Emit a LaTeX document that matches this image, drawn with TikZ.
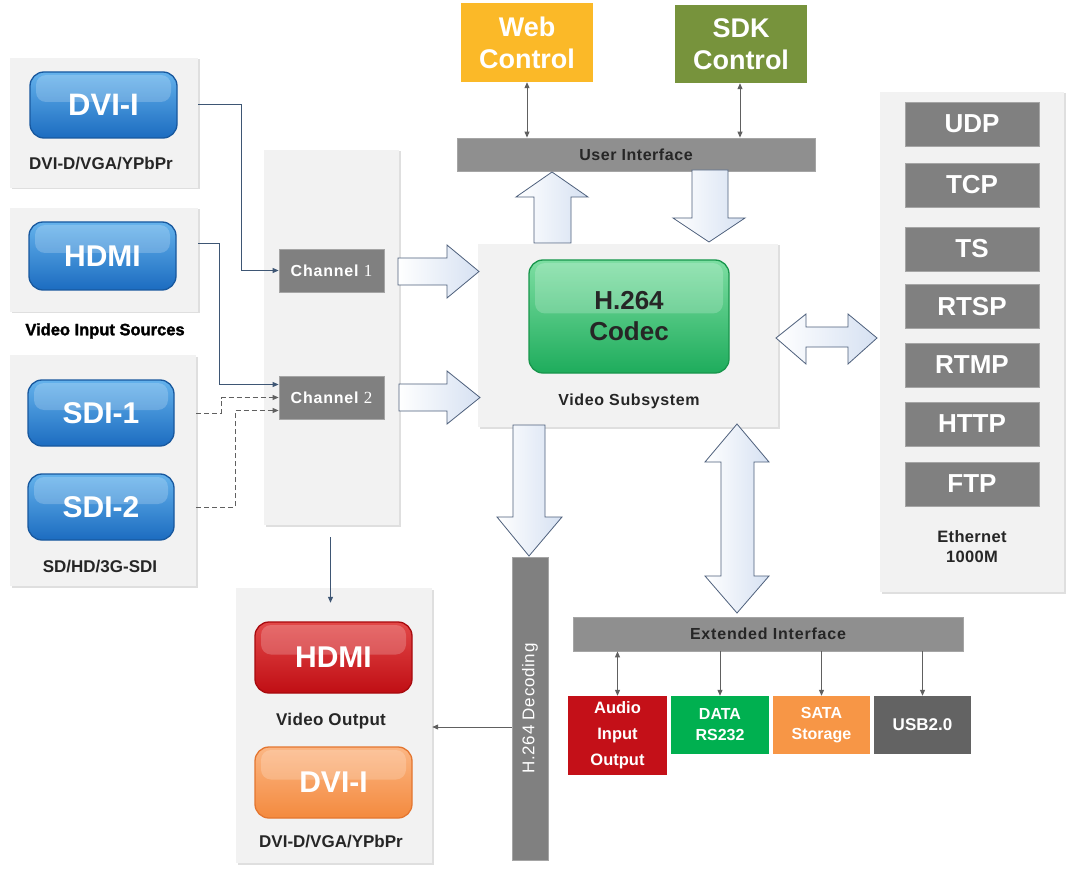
\documentclass[tikz,border=0pt]{standalone}
\usepackage{fontspec}
\setmainfont{Liberation Sans}
\newfontfamily\serifdigit{Liberation Serif}
\newfontfamily\heavyfont{Liberation Sans}[BoldFeatures={FakeBold=1.6}]
\usetikzlibrary{arrows.meta,calc,shadows}
\definecolor{panelgray}{RGB}{242,242,242}
\definecolor{boxgray}{RGB}{128,128,128}
\definecolor{barGray}{RGB}{143,143,143}
\definecolor{boxedge}{RGB}{165,165,165}
\definecolor{darktext}{RGB}{38,38,38}
\definecolor{bluetop}{RGB}{100,178,236}
\definecolor{bluemid}{RGB}{45,135,212}
\definecolor{bluebot}{RGB}{28,108,192}
\definecolor{blueedge}{RGB}{24,88,158}
\definecolor{greentop}{RGB}{125,222,162}
\definecolor{greenmid}{RGB}{52,190,112}
\definecolor{greenbot}{RGB}{30,172,92}
\definecolor{greenedge}{RGB}{24,150,76}
\definecolor{redtop}{RGB}{226,72,72}
\definecolor{redmid}{RGB}{206,22,26}
\definecolor{redbot}{RGB}{192,14,20}
\definecolor{rededge}{RGB}{168,10,14}
\definecolor{orgtop}{RGB}{251,182,132}
\definecolor{orgmid}{RGB}{247,150,80}
\definecolor{orgbot}{RGB}{244,138,62}
\definecolor{orgedge}{RGB}{228,118,48}
\definecolor{webyellow}{RGB}{251,185,40}
\definecolor{sdkgreen}{RGB}{119,147,60}
\definecolor{audiored}{RGB}{196,16,24}
\definecolor{datagreen}{RGB}{0,176,80}
\definecolor{sataorange}{RGB}{247,150,70}
\definecolor{usbgray}{RGB}{99,99,99}
\definecolor{arrowedge}{RGB}{78,96,124}
\definecolor{arrowblue}{RGB}{214,225,242}
\definecolor{inblue}{RGB}{62,86,116}
\definecolor{linegray}{RGB}{96,96,96}
\newcommand\fsz[2]{\fontsize{#1}{#2}\selectfont}
\newcommand\spc[1]{\addfontfeature{LetterSpace=#1}}
\begin{document}
\begin{tikzpicture}[x=1pt,y=-1pt,
  panel/.style={fill=panelgray, draw=none, inner sep=0pt,
    drop shadow={shadow xshift=1.5pt, shadow yshift=-1.5pt, opacity=0.25}},
  gloss/.style={rounded corners=14pt, line width=1.3pt, inner sep=0pt, text=white,
    font=\bfseries\fsz{30}{30},
    path picture={\fill[white,opacity=0.2,rounded corners=10pt]
      ($(path picture bounding box.north west)+(6pt,-3pt)$) rectangle
      ($(path picture bounding box.east)+(-6pt,3pt)$);}},
  glossblue/.style={gloss, draw=blueedge, top color=bluetop, middle color=bluemid, bottom color=bluebot},
  glossgreen/.style={gloss, draw=greenedge, top color=greentop, middle color=greenmid, bottom color=greenbot, text=darktext, font=\bfseries\fsz{26}{31}, align=center},
  glossred/.style={gloss, draw=rededge, top color=redtop, middle color=redmid, bottom color=redbot},
  glossorange/.style={gloss, draw=orgedge, top color=orgtop, middle color=orgmid, bottom color=orgbot},
  caption/.style={inner sep=0pt, text=darktext, font=\bfseries\fsz{17}{20}, align=center},
  gbox/.style={fill=boxgray, draw=boxedge, line width=0.8pt, inner sep=0pt, text=white, font=\bfseries\fsz{26}{26}},
  chbox/.style={gbox, font=\bfseries\fsz{16}{16}\spc{5}},
  gbar/.style={fill=barGray, draw=boxedge, line width=0.8pt, inner sep=0pt, text=darktext, font=\bfseries\fsz{16}{16}},
  topbox/.style={draw=none, inner sep=0pt, text=white, font=\bfseries\fsz{27}{32}, align=center},
  extbox/.style={draw=none, inner sep=0pt, text=white, font=\bfseries\fsz{16}{21}, align=center},
  blockarrow/.style={draw=arrowedge, line width=0.8pt, left color=white, right color=arrowblue},
  tip/.style={-{Triangle[length=6pt,width=5pt]}},
  inarrow/.style={draw=inblue, line width=1pt, tip},
  dasharrow/.style={draw=linegray, line width=1pt, dash pattern=on 5pt off 3pt, tip},
  grayarrow/.style={draw=linegray, line width=1pt, tip},
  grayboth/.style={draw=linegray, line width=1pt, {Triangle[length=6pt,width=5pt]}-{Triangle[length=6pt,width=5pt]}}
]
\useasboundingbox (0,0) rectangle (1069,869);
\fill[white] (0,0) rectangle (1069,869);

% panels
\node[panel, minimum width=188pt, minimum height=130pt] (dvipanel) at (104,123) {};
\node[panel, minimum width=188pt, minimum height=104pt] (hdmipanel) at (104,260) {};
\node[panel, minimum width=186pt, minimum height=231pt] (sdipanel) at (103,470.5) {};
\node[panel, minimum width=135pt, minimum height=375pt] (chpanel) at (331.5,337.5) {};
\node[panel, minimum width=300pt, minimum height=183pt] (vspanel) at (628,335.5) {};
\node[panel, minimum width=184pt, minimum height=500pt] (ethpanel) at (972,342) {};
\node[panel, minimum width=196pt, minimum height=275pt] (vopanel) at (334,725.5) {};

% input buttons
\node[glossblue, minimum width=147pt, minimum height=66pt, font=\bfseries\fsz{31}{31}] (dvi) at (103.5,105) {DVI-I};
\node[caption] (dvicap) at (101,164) {DVI-D/VGA/YPbPr};
\node[glossblue, minimum width=147pt, minimum height=68pt] (hdmi) at (102.5,256) {HDMI};
\node[caption, font=\heavyfont\bfseries\fsz{16.5}{20}, text=black] (vis) at (105,331) {Video Input Sources};
\node[glossblue, minimum width=146pt, minimum height=66pt] (sdi1) at (101,413) {SDI-1};
\node[glossblue, minimum width=146pt, minimum height=66pt] (sdi2) at (101,507) {SDI-2};
\node[caption] (sdicap) at (100,567) {SD/HD/3G-SDI};

% channels
\node[chbox, minimum width=105pt, minimum height=43pt] (ch1) at (331.5,270.5) {Channel {\serifdigit\mdseries\fsz{17}{17}1}};
\node[chbox, minimum width=105pt, minimum height=43pt] (ch2) at (331.5,397.5) {Channel {\serifdigit\mdseries\fsz{17}{17}2}};

% top controls
\node[topbox, fill=webyellow, minimum width=132pt, minimum height=79pt] (web) at (527,42.5) {Web\\Control};
\node[topbox, fill=sdkgreen, minimum width=132pt, minimum height=78pt] (sdk) at (741,44) {SDK\\Control};
\node[gbar, minimum width=358pt, minimum height=33pt, font=\bfseries\fsz{16}{16}\spc{3.5}] (ui) at (636,154.5) {User Interface};

% video subsystem
\node[glossgreen, minimum width=200pt, minimum height=113pt] (codec) at (629,316.5) {H.264\\Codec};
\node[caption, font=\bfseries\fsz{16}{20}\spc{4}] (vscap) at (629,401) {Video Subsystem};

% ethernet
\node[gbox, minimum width=134pt, minimum height=44pt] (udp) at (972,124) {UDP};
\node[gbox, minimum width=134pt, minimum height=44pt] (tcp) at (972,185) {TCP};
\node[gbox, minimum width=134pt, minimum height=44pt] (ts) at (972,249) {TS};
\node[gbox, minimum width=134pt, minimum height=44pt] (rtsp) at (972,306.5) {RTSP};
\node[gbox, minimum width=134pt, minimum height=44pt] (rtmp) at (972,365) {RTMP};
\node[gbox, minimum width=134pt, minimum height=44pt] (http) at (972,424) {HTTP};
\node[gbox, minimum width=134pt, minimum height=44pt] (ftp) at (972,484) {FTP};
\node[caption, font=\bfseries\fsz{16.5}{20}\spc{2}] (ethcap) at (972,547) {Ethernet\\1000M};

% decoding and output
\node[gbox, minimum width=36pt, minimum height=303pt, font=\fsz{17}{17}\spc{4}] (dec) at (530,708.5) {\rotatebox{90}{H.264 Decoding}};
\node[glossred, minimum width=157pt, minimum height=71pt] (hdmiout) at (333.5,657.5) {HDMI};
\node[caption, font=\bfseries\fsz{17}{20}\spc{2}] (vocap) at (331,721) {Video Output};
\node[glossorange, minimum width=157pt, minimum height=71pt] (dviout) at (333.5,782.5) {DVI-I};
\node[caption] (dvioutcap) at (331,842) {DVI-D/VGA/YPbPr};

% extended interface
\node[gbar, minimum width=390pt, minimum height=34pt, font=\bfseries\fsz{16}{16}\spc{5}] (ext) at (768,634) {Extended Interface};
\node[extbox, fill=audiored, minimum width=99pt, minimum height=79pt, font=\bfseries\fsz{16.5}{26}] (audio) at (617.5,735.5) {Audio\\Input\\Output};
\node[extbox, fill=datagreen, minimum width=98pt, minimum height=58pt] (data) at (720,725) {DATA\\RS232};
\node[extbox, fill=sataorange, minimum width=97pt, minimum height=58pt] (sata) at (821.5,725) {SATA\\Storage};
\node[extbox, fill=usbgray, minimum width=97pt, minimum height=58pt, font=\bfseries\fsz{17}{21}] (usb) at (922.5,725) {USB2.0};

% block arrows
\draw[blockarrow] (398,258) -- (447,258) -- (447,245) -- (479,271.5) -- (447,298) -- (447,285) -- (398,285) -- cycle;
\draw[blockarrow] (399,384) -- (447,384) -- (447,371) -- (480,397.5) -- (447,424) -- (447,411) -- (399,411) -- cycle;
\draw[blockarrow] (534,243) -- (534,197) -- (516,197) -- (552,172) -- (588,197) -- (571,197) -- (571,243) -- cycle;
\draw[blockarrow] (692,170) -- (728,170) -- (728,218) -- (745,218) -- (709,242) -- (673,218) -- (692,218) -- cycle;
\draw[blockarrow] (513,425) -- (545,425) -- (545,517) -- (562,517) -- (529,556) -- (497,517) -- (513,517) -- cycle;
\draw[blockarrow] (737,424) -- (769,462) -- (754,462) -- (754,576) -- (769,576) -- (737,613) -- (705,576) -- (721,576) -- (721,462) -- (705,462) -- cycle;
\draw[blockarrow] (776,338) -- (806,314) -- (806,327) -- (848,327) -- (848,314) -- (877,338) -- (848,364) -- (848,347) -- (806,347) -- (806,364) -- cycle;

% input connectors
\draw[inarrow] (dvipanel.east |- dvi.east) -- ++(43,0) |- (ch1.west);
\draw[inarrow] ([yshift=16pt]hdmipanel.east) -- ++(21,0) |- ([yshift=13pt]ch2.west);
\draw[dasharrow] (sdipanel.east |- sdi1.east) -- ++(25,0) |- (ch2.west);
\draw[dasharrow] (sdipanel.east |- sdi2.east) -- ++(39,0) |- ([yshift=-13pt]ch2.west);
\draw[inarrow] ([yshift=-12pt,xshift=-1pt]chpanel.south) -- ([yshift=-15pt,xshift=-1pt]chpanel.south |- vopanel.north);
\draw[grayarrow] ([yshift=-18.5pt]dec.west) -- ([yshift=-18.5pt]dec.west -| vopanel.east);

% control connectors
\draw[grayboth] (web.south) -- (web.south |- ui.north);
\draw[grayboth] ([xshift=-1pt]sdk.south) -- ([xshift=-1pt]sdk.south |- ui.north);

% extended interface connectors
\draw[grayboth] (ext.south -| audio.north) -- (audio.north);
\draw[grayarrow] (ext.south -| data.north) -- (data.north);
\draw[grayarrow] (ext.south -| sata.north) -- (sata.north);
\draw[grayarrow] (ext.south -| usb.north) -- (usb.north);
\end{tikzpicture}
\end{document}
